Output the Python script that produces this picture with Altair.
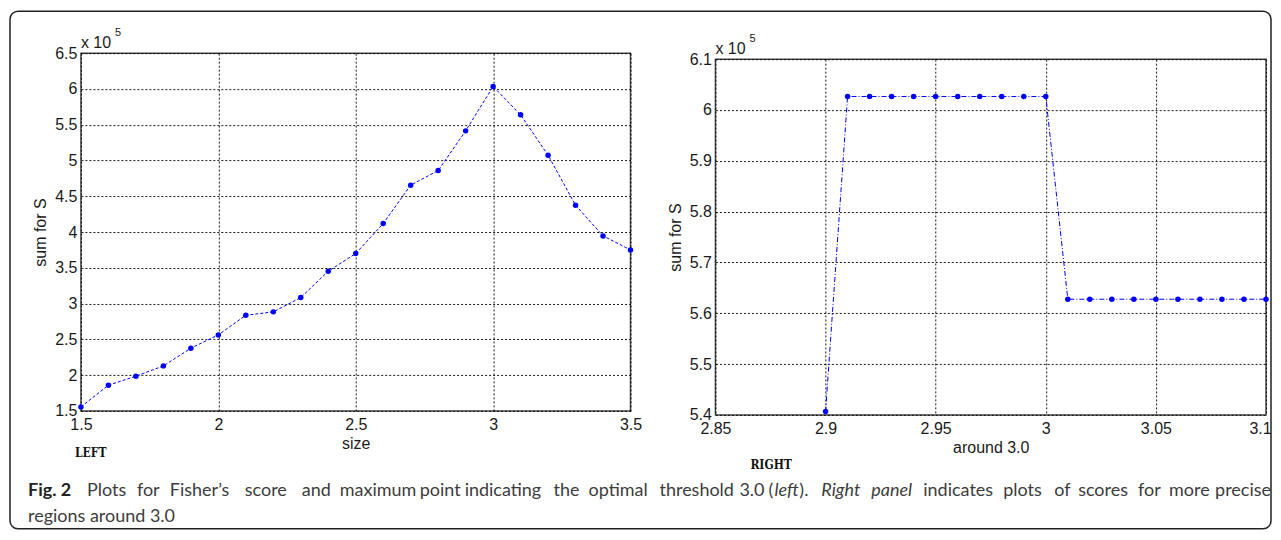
import altair as alt
import pandas as pd

# ---------------- data (values in units of 10^5) ----------------
size_left = [1.5, 1.6, 1.7, 1.8, 1.9, 2.0, 2.1, 2.2, 2.3, 2.4, 2.5,
             2.6, 2.7, 2.8, 2.9, 3.0, 3.1, 3.2, 3.3, 3.4, 3.5]
score_left = [1.556, 1.859, 1.985, 2.129, 2.376, 2.562, 2.837, 2.884, 3.084, 3.452, 3.700,
              4.119, 4.655, 4.860, 5.414, 6.034, 5.638, 5.074, 4.375, 3.946, 3.750]

thr_right = [2.90, 2.91, 2.92, 2.93, 2.94, 2.95, 2.96, 2.97, 2.98, 2.99, 3.00,
             3.01, 3.02, 3.03, 3.04, 3.05, 3.06, 3.07, 3.08, 3.09, 3.10]
score_right = [5.4066, 6.0265, 6.0265, 6.0265, 6.0265, 6.0265, 6.0265, 6.0265, 6.0265, 6.0265, 6.0265,
               5.6276, 5.6276, 5.6276, 5.6276, 5.6276, 5.6276, 5.6276, 5.6276, 5.6276, 5.6276]

left_xticks = [1.5, 2.0, 2.5, 3.0, 3.5]
left_yticks = [1.5, 2.0, 2.5, 3.0, 3.5, 4.0, 4.5, 5.0, 5.5, 6.0, 6.5]
right_xticks = [2.85, 2.90, 2.95, 3.00, 3.05, 3.10]
right_yticks = [5.4, 5.5, 5.6, 5.7, 5.8, 5.9, 6.0, 6.1]

# caption words: (text, style)
caption_line1 = [
    ("Fig. 2", "bold"), ("Plots", "n"), ("for", "n"), ("Fisher\u2019s", "n"), ("score", "n"),
    ("and", "n"), ("maximum", "n"), ("point", "n"), ("indicating", "n"), ("the", "n"),
    ("optimal", "n"), ("threshold", "n"), ("3.0", "n"), ("(", "n"), ("left", "i"), (").", "n"),
    ("Right", "i"), ("panel", "i"), ("indicates", "n"), ("plots", "n"), ("of", "n"),
    ("scores", "n"), ("for", "n"), ("more", "n"),
]
caption_last = ("precise", "n")
caption_line2 = [("regions around 3.0", "n")]
# layout: page x of each word (justified caption)
caption_x1 = [26, 85, 135, 168, 243, 300, 338, 418, 463, 552, 587, 658, 738, 767, 773, 798,
              820, 870, 922, 1002, 1053, 1077, 1137, 1168]
caption_last_right = 1270
caption_x2 = [26]

df_left = pd.DataFrame({"size": size_left, "score": score_left})
df_right = pd.DataFrame({"thr": thr_right, "score": score_right})
one = pd.DataFrame({"a": [0]})

BLUE = "#0000ff"
LBL = "format(datum.value, '~g')"
TXT = "#1a1a1a"
CAP = "#3c3c3c"
CAPFONT = "Lato"
CAPSIZE = 18
LX0, LY0 = 79, 54  # page position of left plot origin


def txt(s, x, y, size=16, font="Liberation Sans", weight="normal", style="normal",
        color=TXT, align="left", baseline="alphabetic"):
    return alt.Chart(one).mark_text(
        text=s, font=font, fontSize=size, fontWeight=weight, fontStyle=style,
        color=color, align=align, baseline=baseline
    ).encode(x=alt.value(x), y=alt.value(y))


def cap_word(word, style, px, py, align="left"):
    return txt(word, px - LX0, py - LY0, size=CAPSIZE, font=CAPFONT,
               weight="bold" if style == "bold" else "normal",
               style="italic" if style == "i" else "normal",
               color="#222" if style == "bold" else CAP, align=align)


# ---------------- left panel ----------------
lx = alt.X("size:Q", scale=alt.Scale(domain=[1.5, 3.5], nice=False),
           axis=alt.Axis(values=left_xticks, labelExpr=LBL, title="size"))
ly = alt.Y("score:Q", scale=alt.Scale(domain=[1.5, 6.5], nice=False, zero=False),
           axis=alt.Axis(values=left_yticks, labelExpr=LBL, title="sum for S"))

left_line = alt.Chart(df_left).mark_line(color=BLUE, strokeWidth=1, strokeDash=[3, 2]).encode(x=lx, y=ly)
left_pts = alt.Chart(df_left).mark_circle(color=BLUE, size=30, opacity=1).encode(x=lx, y=ly)

frame = alt.Chart(one).mark_rect(
    fill=None, filled=False, stroke="#222", strokeWidth=1.5, cornerRadius=8
).encode(x=alt.value(8 - LX0), x2=alt.value(1270 - LX0),
         y=alt.value(12 - LY0), y2=alt.value(530 - LY0))

caption = [cap_word(w, s, px, 497) for (w, s), px in zip(caption_line1, caption_x1)]
caption.append(cap_word(caption_last[0], caption_last[1], caption_last_right, 497, align="right"))
caption += [cap_word(w, s, px, 523) for (w, s), px in zip(caption_line2, caption_x2)]

CONDSERIF = "DejaVu Serif Condensed, Liberation Serif, serif"

left = alt.layer(
    left_line, left_pts,
    txt("x 10", 0, -5, size=16),
    txt("5", 34, -17, size=11),
    txt("LEFT", -6, 404, size=12, font=CONDSERIF, weight="bold", color="#111"),
    frame,
    *caption,
).properties(width=550, height=358)

# ---------------- right panel ----------------
rx = alt.X("thr:Q", scale=alt.Scale(domain=[2.85, 3.1], nice=False, zero=False),
           axis=alt.Axis(values=right_xticks, labelExpr=LBL, title="around 3.0",
                         labelOffset={"condition": {"test": "datum.value > 3.09", "value": -6},
                                      "value": 0}))
ry = alt.Y("score:Q", scale=alt.Scale(domain=[5.4, 6.1], nice=False, zero=False),
           axis=alt.Axis(values=right_yticks, labelExpr=LBL, title="sum for S"))

right_line = alt.Chart(df_right).mark_line(color=BLUE, strokeWidth=1, strokeDash=[5, 2, 1, 2]).encode(x=rx, y=ry)
right_pts = alt.Chart(df_right).mark_circle(color=BLUE, size=30, opacity=1).encode(x=rx, y=ry)

right = alt.layer(
    right_line, right_pts,
    txt("x 10", 0, -5, size=16),
    txt("5", 34, -17, size=11),
    txt("RIGHT", 35, 410, size=12, font=CONDSERIF, weight="bold", color="#111"),
).properties(width=551, height=356)

spacer = alt.Chart(one).mark_point(opacity=0).encode(
    x=alt.value(0), y=alt.value(0)
).properties(width=551, height=6, view=alt.ViewBackground(stroke=None))

right_col = alt.vconcat(spacer, right, spacing=0, bounds="flush")

chart = alt.hconcat(left, right_col, spacing=85, bounds="flush").resolve_scale(
    x="independent", y="independent"
).properties(
    padding={"left": 0, "top": 1, "right": 0, "bottom": 0}
).configure_axis(
    labelFont="Liberation Sans", labelFontSize=16, labelColor=TXT, labelPadding=4,
    titleFont="Liberation Sans", titleFontSize=16, titleFontWeight="normal", titleColor=TXT,
    titlePadding=6,
    grid=True, gridColor="#000", gridDash=[2, 2], gridOpacity=0.9, gridWidth=1,
    ticks=False, domain=False, labelFlush=False, labelOverlap=False,
).configure_axisX(
    labelPadding=6, titlePadding=3,
).configure_view(
    stroke="#444", strokeWidth=1.5
)

chart.save("out.html", embed_options={"renderer": "svg", "actions": False})
